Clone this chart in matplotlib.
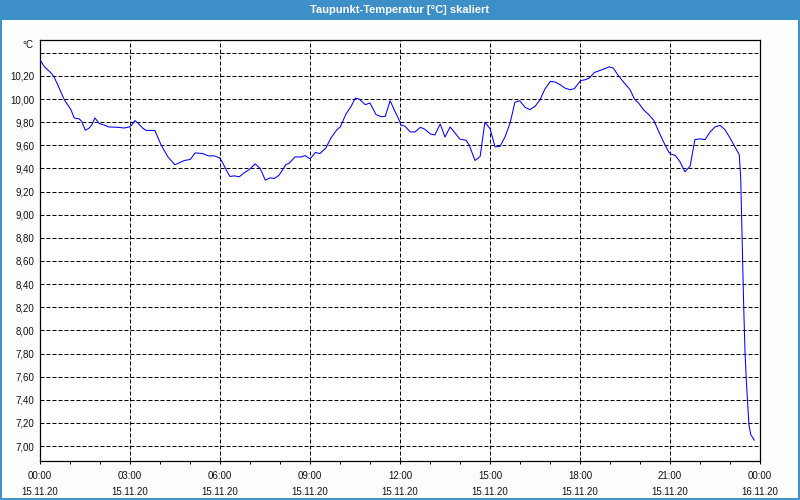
import matplotlib
matplotlib.use("Agg")
import matplotlib.pyplot as plt
from matplotlib.patches import Rectangle
from matplotlib.ticker import MultipleLocator, FixedLocator

plt.rcParams['font.family'] = ['Liberation Sans', 'DejaVu Sans']

# hours since 15.11.20 00:00, dew point in °C
hours = [
    0, 0.14, 0.37, 0.46, 0.59, 0.81, 1.03, 1.14, 1.31, 1.39, 1.51, 1.64, 1.73, 1.83, 1.98, 2.14, 2.29, 2.59, 2.81,
    2.98, 3.07, 3.16, 3.26, 3.42, 3.53, 3.83, 4.03, 4.26, 4.5, 4.64, 4.81, 5.01, 5.17, 5.42, 5.61, 5.81, 5.98,
    6.06, 6.2, 6.33, 6.48, 6.64, 6.81, 6.98, 7.17, 7.34, 7.51, 7.67, 7.81, 7.96, 8.08, 8.19, 8.31, 8.5, 8.72, 8.83,
    9.0, 9.18, 9.33, 9.53, 9.7, 9.9, 10.01, 10.2, 10.37, 10.51, 10.64, 10.84, 11.0, 11.2, 11.37, 11.51, 11.67,
    11.83, 11.98,
    12.03, 12.17, 12.34, 12.5, 12.68, 12.83, 13.01, 13.16, 13.34, 13.5, 13.67, 13.83, 14.0, 14.2, 14.31, 14.5,
    14.67, 14.83, 15.0, 15.17, 15.33, 15.5, 15.67, 15.83, 15.99, 16.17, 16.33, 16.5, 16.67, 16.83, 17.01, 17.18,
    17.34, 17.5, 17.67, 17.81, 17.98,
    18.03, 18.17, 18.31, 18.48, 18.64, 18.81, 18.98, 19.11, 19.26, 19.48, 19.67, 19.81, 19.98, 20.11, 20.29,
    20.46, 20.62, 20.79, 20.96, 21.03, 21.18, 21.33, 21.5, 21.67, 21.83, 22.0, 22.17, 22.33, 22.5, 22.67, 22.83,
    23.0, 23.14, 23.31, 23.357, 23.39, 23.423, 23.457, 23.5, 23.543, 23.59, 23.633, 23.69, 23.81,
]
temps = [
    10.34, 10.282, 10.225, 10.196, 10.124, 9.995, 9.909, 9.837, 9.828, 9.808, 9.73, 9.75, 9.779, 9.837, 9.788,
    9.776, 9.759, 9.756, 9.75, 9.759, 9.779, 9.814, 9.794, 9.75, 9.73, 9.728, 9.607, 9.501, 9.432, 9.449, 9.469,
    9.478, 9.535, 9.529, 9.509, 9.509, 9.492,
    9.463, 9.391, 9.331, 9.336, 9.328, 9.363, 9.391, 9.44, 9.40, 9.299, 9.319, 9.314, 9.34, 9.386, 9.432, 9.446,
    9.50, 9.50, 9.512, 9.483, 9.538, 9.529, 9.578, 9.664, 9.736, 9.759, 9.871, 9.937, 10.009, 10.0, 9.952, 9.966,
    9.866, 9.848, 9.851, 9.986, 9.894, 9.815,
    9.776, 9.765, 9.716, 9.716, 9.756, 9.739, 9.699, 9.69, 9.785, 9.672, 9.759, 9.707, 9.653, 9.644, 9.601, 9.469,
    9.503, 9.80, 9.745, 9.587, 9.59, 9.672, 9.794, 9.972, 9.986, 9.929, 9.909, 9.937, 9.995, 10.087, 10.153,
    10.147, 10.124, 10.095, 10.081, 10.09, 10.147,
    10.161, 10.167, 10.182, 10.23, 10.245, 10.262, 10.279, 10.268, 10.21, 10.138, 10.081, 10.003, 9.957, 9.909,
    9.866, 9.817, 9.722, 9.627, 9.541, 9.524, 9.512, 9.46, 9.371, 9.42, 9.65, 9.656, 9.65, 9.713, 9.759, 9.773,
    9.736, 9.664, 9.598, 9.518, 9.315, 8.94, 8.565, 8.204, 7.815, 7.57, 7.369, 7.181, 7.10, 7.051,
]

x_ticks = [0, 3, 6, 9, 12, 15, 18, 21, 24]
x_labels = ["00:00\n15.11.20", "03:00\n15.11.20", "06:00\n15.11.20", "09:00\n15.11.20", "12:00\n15.11.20",
            "15:00\n15.11.20", "18:00\n15.11.20", "21:00\n15.11.20", "00:00\n16.11.20"]
y_grid = [7.0 + 0.2 * i for i in range(18)]  # 7,00 .. 10,40
title = "Taupunkt-Temperatur [°C] skaliert"

fig = plt.figure(figsize=(8, 5), dpi=100, facecolor="#fcfefc")

# title bar + outer border
fig.patches.append(Rectangle((0, 1 - 20 / 500), 1, 20 / 500, transform=fig.transFigure,
                             facecolor="#3d8fc7", edgecolor="none", zorder=0))
fig.patches.append(Rectangle((0.5 / 800, 1.5 / 500), 798.5 / 800, 497 / 500, transform=fig.transFigure,
                             facecolor="none", edgecolor="#3d8fc7", lw=1.4, zorder=1))
fig.text(0.5, 1 - 10 / 500, title, color="white", ha="center", va="center", fontsize=8, fontweight="bold")

ax = fig.add_axes([40 / 800, 1 - 460.7 / 500, 720 / 800, 420.7 / 500])
ax.set_facecolor("white")
ax.plot(hours, temps, color="#0000ff", lw=0.75, zorder=3)

ax.set_xlim(0, 24)
ax.set_ylim(6.873, 10.511)

dash = (0, (4, 2))
for h in x_ticks[1:-1]:
    ax.axvline(h, color="black", lw=0.72, ls=dash, zorder=1)
for v in y_grid:
    ax.axhline(v, color="black", lw=0.72, ls=dash, zorder=1)

ax.xaxis.set_major_locator(FixedLocator(x_ticks))
ax.set_xticklabels(x_labels, fontsize=7, linespacing=1.75, color="#111111")
ax.xaxis.set_minor_locator(MultipleLocator(1))
ax.tick_params(axis="x", which="both", direction="out", length=2.5, width=0.72, pad=5)

lab_vals = y_grid[:-1]
ax.set_yticks(lab_vals)
ax.set_yticklabels([f"{v:.2f}".replace(".", ",") for v in lab_vals], fontsize=7, color="#111111")
ax.tick_params(axis="y", length=0, pad=4)

for s in ax.spines.values():
    s.set_linewidth(0.9)
    s.set_color("black")

fig.text(33 / 800, 1 - 45 / 500, "°C", ha="right", va="center", fontsize=7, color="#111111")

fig.savefig("out.png", dpi=100, facecolor=fig.get_facecolor())
